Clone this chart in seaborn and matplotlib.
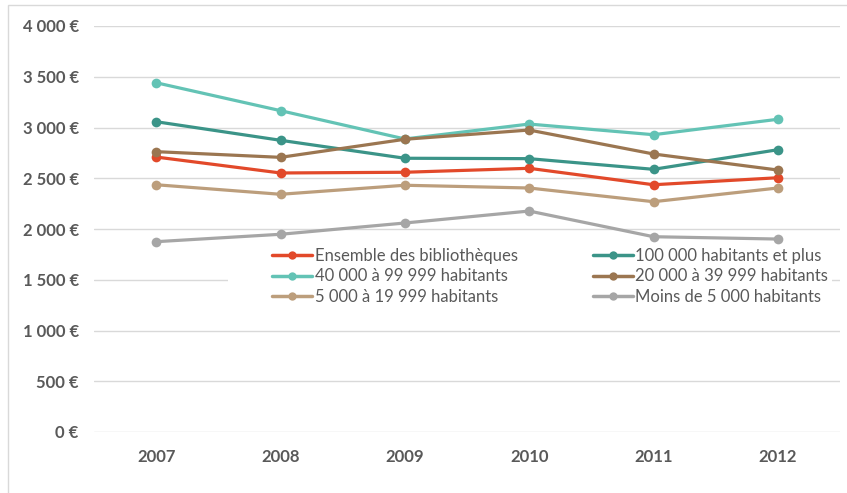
import numpy as np
import pandas as pd
import matplotlib
matplotlib.use("Agg")
import matplotlib.pyplot as plt
import seaborn as sns
from matplotlib.patches import Rectangle
from matplotlib.lines import Line2D

years = ["2007", "2008", "2009", "2010", "2011", "2012"]
series_names = [
    "Ensemble des bibliothèques",
    "100 000 habitants et plus",
    "40 000 à 99 999 habitants",
    "20 000 à 39 999 habitants",
    "5 000 à 19 999 habitants",
    "Moins de 5 000 habitants",
]
ensemble = [2709, 2552, 2559, 2598, 2436, 2505]
hab_100k = [3057, 2874, 2697, 2693, 2588, 2781]
hab_40k = [3441, 3166, 2887, 3034, 2929, 3081]
hab_20k = [2762, 2706, 2884, 2975, 2739, 2581]
hab_5k = [2436, 2342, 2431, 2404, 2269, 2404]
moins_5k = [1875, 1948, 2059, 2177, 1924, 1901]
y_ticks = [0, 500, 1000, 1500, 2000, 2500, 3000, 3500, 4000]
y_labels = ["0 €", "500 €", "1 000 €", "1 500 €", "2 000 €", "2 500 €", "3 000 €", "3 500 €", "4 000 €"]

colors = ["#E2492A", "#3B9488", "#63C3B5", "#9B7651", "#BC9E7C", "#A6A6A6"]

values = [ensemble, hab_100k, hab_40k, hab_20k, hab_5k, moins_5k]
rows = []
for name, vals in zip(series_names, values):
    for y, v in zip(years, vals):
        rows.append({"Année": y, "Valeur": v, "Série": name})
df = pd.DataFrame(rows)

sns.set_style("white")
plt.rcParams["font.family"] = ["Lato", "DejaVu Sans"]

W, H = 847, 493
fig = plt.figure(figsize=(W / 100, H / 100), dpi=100)
fig.patches.append(Rectangle((8 / W, -0.1), 1.2, 1 - 5 / H + 0.1, transform=fig.transFigure,
                             fill=False, edgecolor="#D9D9D9", linewidth=1))
ax_l, ax_b, ax_w, ax_h = 94, 61, 746, 406
ax = fig.add_axes([ax_l / W, ax_b / H, ax_w / W, ax_h / H])

sns.lineplot(data=df, x="Année", y="Valeur", hue="Série", hue_order=series_names,
             palette=colors, marker="o", markersize=7, markeredgewidth=0,
             linewidth=2.3, sort=False, ax=ax, legend=False, zorder=3)

ax.set_xlim(-0.5, 5.5)
ax.set_ylim(0, 4000)
ax.set_yticks(y_ticks)
ax.set_yticklabels(y_labels)
ax.grid(axis="y", color="#D9D9D9", linewidth=1)
ax.set_axisbelow(True)
for s in ax.spines.values():
    s.set_visible(False)
ax.set_xlabel("")
ax.set_ylabel("")
ax.tick_params(axis="both", length=0, labelcolor="#595959", labelsize=12)
ax.tick_params(axis="y", pad=11)
ax.tick_params(axis="x", pad=12)
for lab in ax.get_xticklabels() + ax.get_yticklabels():
    lab.set_fontweight("bold")

# white legend area (hides gridline behind legend)
def px_box(x0, y0, x1, y1):
    return ((x0 - ax_l) / ax_w, (H - y1 - ax_b) / ax_h, (x1 - x0) / ax_w, (y1 - y0) / ax_h)
bx, by, bw, bh = px_box(228, 236, 832, 312)
ax.add_patch(Rectangle((bx, by), bw, bh, transform=ax.transAxes, facecolor="white",
                       edgecolor="none", zorder=1))

handles = [Line2D([], [], color=c, marker="o", markersize=6, markeredgewidth=0, linewidth=2.5) for c in colors]
order = [0, 2, 4, 1, 3, 5]
leg = ax.legend([handles[i] for i in order], [series_names[i] for i in order],
                ncol=2, loc="upper left",
                bbox_to_anchor=((267 - ax_l) / ax_w, (H - 243 - ax_b) / ax_h),
                frameon=False, fontsize=12, handlelength=2.4, handletextpad=0.15,
                labelspacing=0.26, columnspacing=4.5, borderpad=0.3, borderaxespad=0)
for t in leg.get_texts():
    t.set_color("#595959")

fig.savefig("out.png", dpi=100)
